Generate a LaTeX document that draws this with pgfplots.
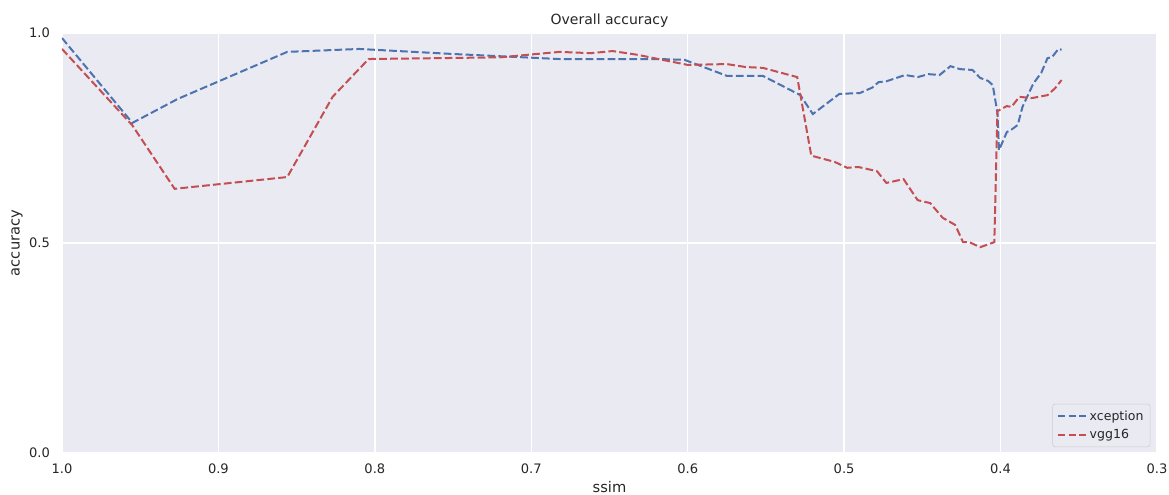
\documentclass[border=0pt]{standalone}
\usepackage{fontspec}
\setmainfont{DejaVu Sans}
\usepackage{pgfplots}
\pgfplotsset{compat=1.18}
\definecolor{bgc}{HTML}{EAEAF2}
\definecolor{sblue}{HTML}{4C72B0}
\definecolor{sred}{HTML}{C44E52}
\definecolor{txt}{HTML}{262626}
\begin{document}
\begin{tikzpicture}
\begin{axis}[
  width=821.25pt, height=315pt, scale only axis,
  x dir=reverse, xmin=0.3, xmax=1.0, ymin=0, ymax=1,
  xtick={0.3,0.4,0.5,0.6,0.7,0.8,0.9,1.0},
  ytick={0,0.5,1},
  /pgf/number format/assume math mode=true,
  ticklabel style={font=\fontsize{9.8}{11}\selectfont, text=txt},
  xticklabel style={yshift=-4.5pt, /pgf/number format/.cd, fixed, fixed zerofill, precision=1},
  yticklabel style={xshift=-5.5pt, /pgf/number format/.cd, fixed, fixed zerofill, precision=1},
  major tick length=0pt,
  axis background/.style={fill=bgc},
  axis line style={draw=none},
  grid=major, major grid style={white, line width=1pt},
  xtick pos=bottom, ytick pos=left,
  title={Overall accuracy},
  title style={font=\fontsize{10.5}{12}\selectfont, text=txt, yshift=-5.5pt},
  xlabel={ssim}, ylabel={accuracy},
  label style={font=\fontsize{11}{13}\selectfont, text=txt},
  xlabel style={at={(axis description cs:0.5,-0.081)}, anchor=center},
  ylabel style={at={(axis description cs:-0.041,0.5)}, anchor=center},
  legend style={at={(rel axis cs:0.994,0.014)}, anchor=south east, draw=black!20, fill=bgc, rounded corners=2pt, font=\fontsize{9.4}{11}\selectfont, text=txt, inner sep=3pt, row sep=1pt},
  legend cell align=left,
  legend image code/.code={\draw[#1] plot coordinates {(0cm,0cm) (0.75cm,0cm)};},
  every axis plot/.append style={line width=1.5pt, dash pattern=on 5.8pt off 2.4pt},
]
\addplot[sblue] coordinates {
(1.0,0.988) (0.955,0.786) (0.926,0.843) (0.856,0.955) (0.81,0.962) (0.75,0.950)
(0.682,0.938) (0.618,0.938) (0.602,0.936) (0.575,0.898) (0.552,0.898)
(0.528,0.852) (0.52,0.807) (0.503,0.855) (0.49,0.857) (0.482,0.870) (0.478,0.883) (0.473,0.885)
(0.461,0.900) (0.453,0.895) (0.446,0.902) (0.439,0.900) (0.432,0.921) (0.426,0.914)
(0.418,0.912) (0.413,0.893) (0.408,0.886) (0.405,0.876) (0.402,0.81) (0.401,0.721)
(0.396,0.764) (0.393,0.770) (0.389,0.781) (0.386,0.824) (0.379,0.880) (0.374,0.905)
(0.370,0.940) (0.367,0.943) (0.363,0.962) (0.361,0.960)
};
\addlegendentry{xception}
\addplot[sred] coordinates {
(1.0,0.962) (0.955,0.78) (0.928,0.629) (0.856,0.657) (0.827,0.848) (0.804,0.938)
(0.72,0.942) (0.682,0.955) (0.662,0.952) (0.648,0.957) (0.632,0.948) (0.600,0.924)
(0.575,0.926) (0.563,0.919) (0.552,0.917) (0.530,0.895) (0.521,0.708) (0.506,0.693)
(0.498,0.679) (0.491,0.681) (0.479,0.671) (0.473,0.643) (0.462,0.652) (0.453,0.602)
(0.445,0.595) (0.437,0.560) (0.429,0.543) (0.424,0.502) (0.420,0.502) (0.413,0.490)
(0.404,0.502) (0.402,0.814) (0.396,0.826) (0.393,0.824) (0.388,0.848) (0.380,0.845)
(0.370,0.852) (0.365,0.869) (0.361,0.888)
};
\addlegendentry{vgg16}
\end{axis}
\pgfresetboundingbox
\path[use as bounding box] ([xshift=-46.5pt,yshift=-31.5pt]current axis.south west) rectangle ([xshift=9pt,yshift=24.75pt]current axis.north east);
\end{tikzpicture}
\end{document}
